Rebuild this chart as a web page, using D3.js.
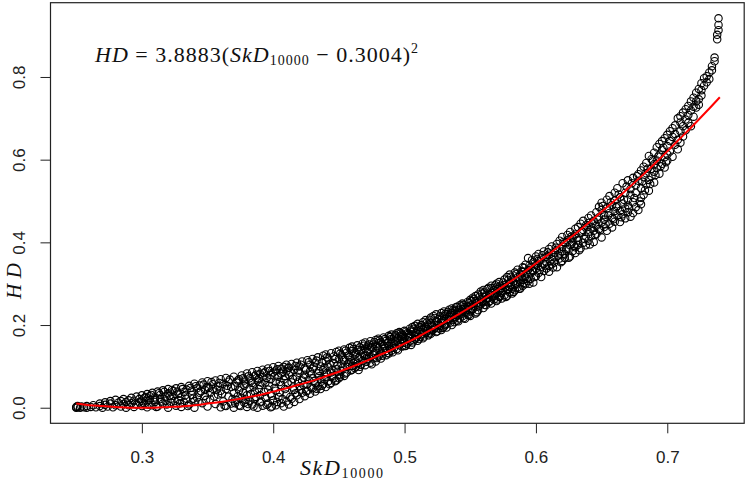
<!DOCTYPE html>
<html>
<head>
<meta charset="utf-8">
<script src="https://cdn.jsdelivr.net/npm/d3@7"></script>
<style>
  html, body { margin: 0; padding: 0; background: #fff; }
  svg { display: block; }
  .axis text { font-family: "Liberation Sans", Arial, sans-serif; font-size: 17px; fill: #222; }
  .axis line { stroke: #222; }
  .math { font-family: "Liberation Serif", "Times New Roman", serif; fill: #111; }
</style>
</head>
<body>
<div id="chart"></div>
<script>
// tick labels
const xTicks = [0.3, 0.4, 0.5, 0.6, 0.7];
const yTicks = [0.0, 0.2, 0.4, 0.6, 0.8];

// observed points, grouped by SkD_10000 value: [skd, [hd, hd, ...]]
const hdColumns = [
  [0.250, [0.000, 0.002]], [0.251, [0.001, 0.004]], [0.253, [0.000]], [0.254, [0.003]],
  [0.256, [0.001]], [0.258, [0.004, 0.000]], [0.261, [0.002]], [0.263, [0.006]],
  [0.265, [0.001]], [0.268, [0.004, 0.010]], [0.270, [0.000]], [0.272, [0.007, 0.013]],
  [0.274, [0.003]], [0.276, [0.010, 0.016]], [0.278, [0.001]], [0.280, [0.006, 0.019]],
  [0.282, [0.012]], [0.284, [0.003, 0.016]], [0.286, [0.009, 0.021]], [0.288, [0.000, 0.014]],
  [0.290, [0.018, 0.006]], [0.292, [0.024, 0.011]], [0.294, [0.002, 0.017]], [0.296, [0.027, 0.008]],
  [0.298, [0.013, 0.021]], [0.300, [0.030, 0.004, 0.017]],
  [0.302, [0.010, 0.024]], [0.304, [0.033, 0.001]], [0.306, [0.019, 0.028]], [0.308, [0.006, 0.036]],
  [0.310, [0.014, 0.025]], [0.312, [0.039, 0.003]], [0.314, [0.021, 0.031]], [0.316, [0.010, 0.042]],
  [0.318, [0.027, 0.017]], [0.320, [0.000, 0.035, 0.045]], [0.322, [0.022, 0.012]], [0.324, [0.040, 0.029]],
  [0.326, [0.005, 0.047]], [0.328, [0.018, 0.034]], [0.330, [0.026, 0.050, 0.002]], [0.332, [0.038, 0.013]],
  [0.334, [0.044, 0.022]], [0.336, [0.008, 0.053]], [0.338, [0.031, 0.041]], [0.340, [0.016, 0.058, 0.000]],
  [0.342, [0.047, 0.025]], [0.344, [0.036, 0.054]], [0.346, [0.011, 0.061]], [0.348, [0.029, 0.043]],
  [0.350, [0.003, 0.064, 0.050]], [0.352, [0.020, 0.037]], [0.354, [0.057, 0.046]], [0.356, [0.009, 0.066]],
  [0.358, [0.032, 0.052]], [0.360, [0.001, 0.069, 0.041]],
  [0.362, [0.058, 0.015]], [0.364, [0.072, 0.004, 0.045]], [0.366, [0.027, 0.063]], [0.368, [0.050, 0.010]],
  [0.370, [0.075, 0.035, 0.000]], [0.372, [0.061, 0.019]], [0.374, [0.069, 0.042, 0.006]], [0.376, [0.078, 0.024]],
  [0.378, [0.053, 0.012, 0.066]], [0.380, [0.083, 0.030, 0.002]], [0.382, [0.071, 0.047, 0.016]],
  [0.384, [0.060, 0.086, 0.008]], [0.386, [0.039, 0.077, 0.021]], [0.388, [0.089, 0.066, 0.000]],
  [0.390, [0.055, 0.082, 0.013, 0.030]], [0.392, [0.074, 0.092, 0.005]], [0.394, [0.061, 0.024, 0.087]],
  [0.396, [0.095, 0.044, 0.010]], [0.398, [0.079, 0.069, 0.001, 0.034]], [0.400, [0.098, 0.085, 0.018]],
  [0.402, [0.063, 0.090, 0.006, 0.041]], [0.404, [0.101, 0.075, 0.026]], [0.406, [0.083, 0.094, 0.011, 0.055]],
  [0.408, [0.068, 0.099, 0.003]], [0.410, [0.104, 0.088, 0.032, 0.015]],
  [0.412, [0.079, 0.097, 0.008]], [0.414, [0.106, 0.061, 0.022]], [0.416, [0.092, 0.043, 0.014]],
  [0.418, [0.109, 0.075, 0.030]], [0.420, [0.084, 0.100, 0.021, 0.052]], [0.422, [0.112, 0.066, 0.036]],
  [0.424, [0.095, 0.080, 0.028]], [0.426, [0.115, 0.057, 0.041]], [0.428, [0.104, 0.088, 0.034]],
  [0.430, [0.118, 0.071, 0.047, 0.095]], [0.432, [0.109, 0.060, 0.039]], [0.434, [0.122, 0.083, 0.052]],
  [0.436, [0.100, 0.068, 0.045]], [0.438, [0.126, 0.091, 0.057]], [0.440, [0.113, 0.075, 0.050, 0.129]],
  [0.442, [0.098, 0.064, 0.119]], [0.444, [0.132, 0.085, 0.060]], [0.446, [0.108, 0.071, 0.124]],
  [0.448, [0.135, 0.093, 0.066]], [0.450, [0.117, 0.080, 0.138, 0.071]],
  [0.452, [0.127, 0.090, 0.106]], [0.454, [0.141, 0.077, 0.115]], [0.456, [0.099, 0.133, 0.085]],
  [0.458, [0.145, 0.110, 0.122]], [0.460, [0.092, 0.137, 0.101, 0.148]], [0.462, [0.118, 0.128, 0.096]],
  [0.464, [0.151, 0.107, 0.140]], [0.466, [0.124, 0.099, 0.146]], [0.468, [0.113, 0.155, 0.133]],
  [0.470, [0.103, 0.143, 0.126, 0.158]], [0.472, [0.117, 0.150, 0.135]], [0.474, [0.161, 0.109, 0.140]],
  [0.476, [0.128, 0.153, 0.119]], [0.478, [0.164, 0.137, 0.112]], [0.480, [0.145, 0.124, 0.167, 0.156]],
  [0.482, [0.131, 0.159, 0.119]], [0.484, [0.170, 0.142, 0.150]], [0.486, [0.127, 0.162, 0.137]],
  [0.488, [0.174, 0.149, 0.131]], [0.490, [0.157, 0.138, 0.177, 0.166]], [0.492, [0.145, 0.170, 0.155]],
  [0.494, [0.180, 0.142, 0.162]], [0.496, [0.151, 0.172, 0.183]], [0.498, [0.165, 0.148, 0.177]],
  [0.500, [0.186, 0.157, 0.170, 0.149]],
  [0.502, [0.164, 0.180, 0.155]], [0.504, [0.191, 0.172, 0.161]], [0.506, [0.158, 0.184, 0.195]],
  [0.508, [0.176, 0.166, 0.198]], [0.510, [0.189, 0.162, 0.203, 0.177]], [0.512, [0.171, 0.195, 0.183]],
  [0.514, [0.207, 0.168, 0.188]], [0.516, [0.181, 0.212, 0.196]], [0.518, [0.175, 0.201, 0.190]],
  [0.520, [0.218, 0.185, 0.205, 0.179]], [0.522, [0.196, 0.222, 0.189]], [0.524, [0.210, 0.183, 0.226]],
  [0.526, [0.200, 0.192, 0.215]], [0.528, [0.229, 0.206, 0.188]], [0.530, [0.214, 0.196, 0.233, 0.221]],
  [0.532, [0.203, 0.226, 0.194]], [0.534, [0.237, 0.212, 0.220]], [0.536, [0.200, 0.229, 0.240]],
  [0.538, [0.218, 0.207, 0.234]], [0.540, [0.244, 0.224, 0.211, 0.236]], [0.542, [0.216, 0.248, 0.229]],
  [0.544, [0.238, 0.221, 0.252]], [0.546, [0.231, 0.215, 0.244]], [0.548, [0.256, 0.237, 0.225]],
  [0.550, [0.247, 0.222, 0.261, 0.233]],
  [0.552, [0.239, 0.266, 0.251]], [0.554, [0.228, 0.258, 0.270]], [0.556, [0.245, 0.274, 0.236]],
  [0.558, [0.262, 0.250, 0.281]], [0.560, [0.241, 0.285, 0.268, 0.255]], [0.562, [0.273, 0.248, 0.260]],
  [0.564, [0.290, 0.266, 0.255]], [0.566, [0.278, 0.252, 0.295]], [0.568, [0.262, 0.284, 0.271]],
  [0.570, [0.300, 0.258, 0.276, 0.291]], [0.572, [0.268, 0.304, 0.283]], [0.574, [0.290, 0.264, 0.278]],
  [0.576, [0.310, 0.272, 0.297]], [0.578, [0.285, 0.316, 0.270]], [0.580, [0.302, 0.279, 0.322, 0.292]],
  [0.582, [0.288, 0.310, 0.276]], [0.584, [0.327, 0.297, 0.284]], [0.586, [0.315, 0.291, 0.334]],
  [0.588, [0.301, 0.322, 0.288]], [0.590, [0.340, 0.309, 0.295, 0.328]], [0.592, [0.318, 0.346, 0.299]],
  [0.594, [0.362, 0.333, 0.306]], [0.596, [0.312, 0.340, 0.325]], [0.598, [0.352, 0.303, 0.331]],
  [0.600, [0.366, 0.318, 0.345, 0.337]],
  [0.602, [0.326, 0.355, 0.372]], [0.604, [0.340, 0.316, 0.361]], [0.606, [0.378, 0.348, 0.331]],
  [0.608, [0.337, 0.365, 0.352]], [0.610, [0.384, 0.343, 0.370, 0.329]], [0.612, [0.359, 0.390, 0.347]],
  [0.614, [0.375, 0.351, 0.364]], [0.616, [0.396, 0.340, 0.382]], [0.618, [0.361, 0.404, 0.373]],
  [0.620, [0.389, 0.355, 0.413, 0.378]], [0.622, [0.371, 0.398, 0.362]], [0.624, [0.418, 0.384, 0.405]],
  [0.626, [0.393, 0.366, 0.425]], [0.628, [0.379, 0.411, 0.400]], [0.630, [0.433, 0.388, 0.419, 0.374]],
  [0.632, [0.405, 0.437, 0.394]], [0.634, [0.423, 0.386, 0.445]], [0.636, [0.399, 0.452, 0.430]],
  [0.638, [0.414, 0.393, 0.441]], [0.640, [0.459, 0.425, 0.404, 0.447]], [0.642, [0.436, 0.465, 0.415]],
  [0.644, [0.452, 0.401, 0.428]], [0.646, [0.473, 0.440, 0.420]], [0.648, [0.461, 0.432, 0.486]],
  [0.650, [0.448, 0.412, 0.479, 0.496]],
  [0.652, [0.437, 0.466, 0.455]], [0.654, [0.503, 0.428, 0.482]], [0.656, [0.471, 0.445, 0.512]],
  [0.658, [0.490, 0.459, 0.436]], [0.660, [0.520, 0.476, 0.450, 0.501]], [0.662, [0.465, 0.531, 0.488]],
  [0.664, [0.449, 0.509, 0.476]], [0.666, [0.543, 0.494, 0.468]], [0.668, [0.482, 0.520, 0.458]],
  [0.670, [0.550, 0.503, 0.473, 0.489]], [0.672, [0.462, 0.529, 0.515]], [0.674, [0.471, 0.556, 0.497]],
  [0.676, [0.538, 0.485, 0.520]], [0.678, [0.565, 0.478, 0.549]], [0.680, [0.492, 0.574, 0.531, 0.508]],
  [0.682, [0.558, 0.515, 0.583]], [0.684, [0.540, 0.592, 0.567]], [0.686, [0.609, 0.551, 0.525]],
  [0.688, [0.578, 0.601, 0.560]], [0.690, [0.617, 0.545, 0.589, 0.571]], [0.692, [0.598, 0.630, 0.580]],
  [0.694, [0.612, 0.566, 0.638]], [0.696, [0.590, 0.624, 0.645]], [0.698, [0.606, 0.581, 0.652]],
  [0.700, [0.633, 0.613, 0.660, 0.598]],
  [0.702, [0.645, 0.620, 0.669]], [0.704, [0.607, 0.655, 0.676]], [0.706, [0.636, 0.683, 0.662]],
  [0.708, [0.700, 0.648, 0.625]], [0.710, [0.690, 0.669, 0.641, 0.705]], [0.712, [0.656, 0.714, 0.681]],
  [0.714, [0.697, 0.671, 0.722]], [0.716, [0.730, 0.689, 0.708]], [0.718, [0.681, 0.741, 0.719]],
  [0.720, [0.750, 0.704, 0.728]], [0.722, [0.726, 0.762, 0.741]], [0.724, [0.771, 0.746, 0.733]],
  [0.726, [0.755, 0.785, 0.768]], [0.728, [0.797, 0.779]], [0.730, [0.802, 0.787]],
  [0.732, [0.811, 0.795]], [0.734, [0.826, 0.816]], [0.736, [0.838, 0.847]],
  [0.738, [0.891, 0.902]], [0.739, [0.913, 0.926, 0.942]]
];

// further points in the dense part of the band, between the columns above
const hdColumnsBetween = [
  [0.301, [0.012]], [0.303, [0.026]], [0.305, [0.007]], [0.307, [0.031]], [0.309, [0.019]],
  [0.311, [0.002]], [0.313, [0.035]], [0.315, [0.015]], [0.317, [0.038]], [0.319, [0.008]],
  [0.321, [0.029]], [0.323, [0.043]], [0.325, [0.016]], [0.327, [0.039]], [0.329, [0.011]],
  [0.331, [0.045]], [0.333, [0.030]], [0.335, [0.004]], [0.337, [0.048]], [0.339, [0.022]],
  [0.341, [0.052]], [0.343, [0.014]], [0.345, [0.040]], [0.347, [0.056]], [0.349, [0.019]],
  [0.351, [0.048]], [0.353, [0.062]], [0.355, [0.027]], [0.357, [0.044]], [0.359, [0.060]],
  [0.361, [0.034]], [0.363, [0.005]], [0.365, [0.053]], [0.367, [0.068]], [0.369, [0.021]],
  [0.371, [0.052, 0.011]], [0.373, [0.028, 0.066]], [0.375, [0.004, 0.049]], [0.377, [0.071, 0.037]],
  [0.379, [0.020, 0.058]], [0.381, [0.076, 0.009]], [0.383, [0.033, 0.064]], [0.385, [0.051, 0.003]],
  [0.387, [0.080, 0.026]], [0.389, [0.045, 0.070]], [0.391, [0.015, 0.061]], [0.393, [0.084, 0.038]],
  [0.395, [0.007, 0.072]], [0.397, [0.053, 0.089]], [0.399, [0.029, 0.003]], [0.401, [0.076, 0.048]],
  [0.403, [0.014, 0.093]], [0.405, [0.062, 0.037]], [0.407, [0.087, 0.021]], [0.409, [0.045, 0.077]],
  [0.411, [0.096, 0.060]], [0.413, [0.026, 0.085]], [0.415, [0.070, 0.049]], [0.417, [0.101, 0.035]],
  [0.419, [0.063, 0.090]], [0.421, [0.044, 0.104]], [0.423, [0.073, 0.055]], [0.425, [0.092, 0.039]],
  [0.427, [0.067, 0.110]], [0.429, [0.081, 0.049]], [0.431, [0.100, 0.064]], [0.433, [0.046, 0.114]],
  [0.435, [0.089, 0.076]], [0.437, [0.110, 0.053]], [0.439, [0.069, 0.097]], [0.441, [0.084, 0.122]],
  [0.443, [0.057, 0.105]], [0.445, [0.092, 0.077]], [0.447, [0.118, 0.064]], [0.449, [0.087, 0.102]],
  [0.451, [0.131, 0.075]], [0.453, [0.097, 0.119]], [0.455, [0.083, 0.138]], [0.457, [0.105, 0.126]],
  [0.459, [0.090, 0.115]], [0.461, [0.142, 0.108]], [0.463, [0.099, 0.131]], [0.465, [0.120, 0.091]],
  [0.467, [0.139, 0.104]], [0.469, [0.126, 0.150]], [0.471, [0.111, 0.137]], [0.473, [0.153, 0.124]],
  [0.475, [0.105, 0.146]], [0.477, [0.132, 0.159]], [0.479, [0.120, 0.149]], [0.481, [0.138, 0.163]],
  [0.483, [0.126, 0.154]], [0.485, [0.145, 0.166]], [0.487, [0.133, 0.157]], [0.489, [0.171, 0.143]],
  [0.491, [0.150, 0.134]], [0.493, [0.161, 0.175]], [0.495, [0.139, 0.168]], [0.497, [0.156, 0.180]],
  [0.499, [0.175, 0.161]], [0.501, [0.150, 0.184]], [0.503, [0.168, 0.177]], [0.505, [0.187, 0.152]],
  [0.507, [0.163, 0.191]], [0.509, [0.181, 0.170]], [0.511, [0.196, 0.166]], [0.513, [0.178, 0.200]],
  [0.515, [0.192, 0.172]], [0.517, [0.206, 0.185]], [0.519, [0.180, 0.213]], [0.521, [0.199, 0.188]],
  [0.523, [0.217, 0.193]], [0.525, [0.185, 0.207]], [0.527, [0.221, 0.198]], [0.529, [0.209, 0.193]],
  [0.531, [0.227, 0.200]], [0.533, [0.215, 0.232]], [0.535, [0.206, 0.225]], [0.537, [0.236, 0.213]],
  [0.539, [0.220, 0.243]], [0.541, [0.230, 0.209]], [0.543, [0.245, 0.226]], [0.545, [0.217, 0.249]],
  [0.547, [0.240, 0.229]], [0.549, [0.224, 0.253]], [0.551, [0.258, 0.236]], [0.553, [0.245, 0.263]],
  [0.555, [0.231, 0.254]], [0.557, [0.268, 0.247]], [0.559, [0.256, 0.276]], [0.561, [0.249, 0.279]],
  [0.563, [0.264, 0.287]], [0.565, [0.258, 0.274]], [0.567, [0.289, 0.267]], [0.569, [0.275, 0.296]],
  [0.571, [0.262, 0.287]], [0.573, [0.295, 0.271]], [0.575, [0.283, 0.303]], [0.577, [0.268, 0.292]],
  [0.579, [0.309, 0.285]], [0.581, [0.296, 0.317]], [0.583, [0.280, 0.305]], [0.585, [0.323, 0.299]],
  [0.587, [0.288, 0.311]], [0.589, [0.330, 0.317]], [0.591, [0.302, 0.338]], [0.593, [0.325, 0.312]],
  [0.595, [0.344, 0.300]], [0.597, [0.333, 0.357]], [0.599, [0.316, 0.349]],
  [0.601, [0.360]], [0.603, [0.333]], [0.605, [0.369]], [0.607, [0.344]], [0.609, [0.376]],
  [0.611, [0.355]], [0.613, [0.339]], [0.615, [0.387]], [0.617, [0.368]], [0.619, [0.352]],
  [0.621, [0.401]], [0.623, [0.383]], [0.625, [0.363]], [0.627, [0.414]], [0.629, [0.392]],
  [0.631, [0.410]], [0.633, [0.381]], [0.635, [0.426]], [0.637, [0.408]], [0.639, [0.437]],
  [0.641, [0.395]], [0.643, [0.446]], [0.645, [0.418]], [0.647, [0.455]], [0.649, [0.429]],
  [0.651, [0.488]], [0.653, [0.444]], [0.655, [0.465]], [0.657, [0.497]], [0.659, [0.456]],
  [0.661, [0.485]], [0.663, [0.516]], [0.665, [0.461]], [0.667, [0.503]], [0.669, [0.535]],
  [0.671, [0.482]], [0.673, [0.543]], [0.675, [0.507]], [0.677, [0.560]], [0.679, [0.499]],
  [0.681, [0.547]], [0.683, [0.526]], [0.685, [0.578]], [0.687, [0.541]], [0.689, [0.598]],
  [0.691, [0.563]], [0.693, [0.607]], [0.695, [0.584]], [0.697, [0.629]], [0.699, [0.594]]
];

// fitted curve
const fitSkd = [0.25, 0.26, 0.27, 0.28, 0.29, 0.30, 0.31, 0.32, 0.33, 0.34, 0.35, 0.36, 0.37,
  0.38, 0.39, 0.40, 0.41, 0.42, 0.43, 0.44, 0.45, 0.46, 0.47, 0.48, 0.49, 0.50, 0.51, 0.52,
  0.53, 0.54, 0.55, 0.56, 0.57, 0.58, 0.59, 0.60, 0.61, 0.62, 0.63, 0.64, 0.65, 0.66, 0.67,
  0.68, 0.69, 0.70, 0.71, 0.72, 0.73, 0.74];
const fitHd = [0.010, 0.006, 0.004, 0.002, 0.000, 0.000, 0.000, 0.002, 0.003, 0.006, 0.010,
  0.014, 0.019, 0.025, 0.031, 0.039, 0.047, 0.056, 0.065, 0.076, 0.087, 0.099, 0.112, 0.126,
  0.140, 0.155, 0.171, 0.188, 0.206, 0.224, 0.243, 0.263, 0.283, 0.304, 0.326, 0.349, 0.372,
  0.397, 0.421, 0.447, 0.474, 0.501, 0.530, 0.559, 0.589, 0.620, 0.652, 0.684, 0.717, 0.751];

const width = 747, height = 481;

const points = hdColumns.concat(hdColumnsBetween)
  .flatMap(([s, ys]) => ys.map(h => ({skd: s, hd: h})));
const fit = fitSkd.map((s, i) => ({skd: s, hd: fitHd[i]}));

// R-style 4% padding around the data range
const xExt = d3.extent(points, d => d.skd), yExt = d3.extent(points, d => d.hd);
const padX = (xExt[1] - xExt[0]) * 0.04, padY = (yExt[1] - yExt[0]) * 0.04;

const x = d3.scaleLinear().domain([xExt[0] - padX, xExt[1] + padX]).range([50.5, 744.2]);
const y = d3.scaleLinear().domain([yExt[0] - padY, yExt[1] + padY]).range([423.3, 2.7]);

const svg = d3.select('#chart').append('svg')
  .attr('width', width)
  .attr('height', height);

// points
svg.append('g').selectAll('circle')
  .data(points)
  .join('circle')
  .attr('cx', d => x(d.skd))
  .attr('cy', d => y(d.hd))
  .attr('r', 3.7)
  .attr('fill', 'none')
  .attr('stroke', '#000')
  .attr('stroke-width', 1.1);

// fitted line
svg.append('path')
  .datum(fit)
  .attr('fill', 'none')
  .attr('stroke', '#ff0000')
  .attr('stroke-width', 2)
  .attr('d', d3.line().x(d => x(d.skd)).y(d => y(d.hd)).curve(d3.curveMonotoneX));

// box
svg.append('rect')
  .attr('x', x.range()[0]).attr('y', y.range()[1])
  .attr('width', x.range()[1] - x.range()[0])
  .attr('height', y.range()[0] - y.range()[1])
  .attr('fill', 'none')
  .attr('stroke', '#222')
  .attr('stroke-width', 1.2);

// axes
const xAxisG = svg.append('g').attr('class', 'axis')
  .attr('transform', `translate(0,${y.range()[0]})`)
  .call(d3.axisBottom(x).tickValues(xTicks).tickSize(10).tickPadding(17.5).tickFormat(d3.format('.1f')));
xAxisG.select('.domain').remove();

const yAxisG = svg.append('g').attr('class', 'axis')
  .attr('transform', `translate(${x.range()[0]},0)`)
  .call(d3.axisLeft(y).tickValues(yTicks).tickSize(10).tickFormat(d3.format('.1f')));
yAxisG.select('.domain').remove();
yAxisG.selectAll('.tick text')
  .attr('x', null).attr('dy', null)
  .attr('text-anchor', 'middle')
  .attr('transform', 'translate(-25.5,0) rotate(-90)');

// axis titles (math italic)
const xt = svg.append('text').attr('class', 'math')
  .attr('font-family', '"Liberation Serif", serif')
  .attr('x', 300).attr('y', 475)
  .attr('textLength', 83).attr('lengthAdjust', 'spacing');
xt.append('tspan').attr('font-style', 'italic').attr('font-size', 22).text('SkD');
xt.append('tspan').attr('font-size', 14).attr('dy', 3).text('10000');

svg.append('text').attr('class', 'math')
  .attr('font-family', '"Liberation Serif", serif')
  .attr('transform', 'translate(20.5,281) rotate(-90)')
  .attr('text-anchor', 'middle')
  .attr('font-style', 'italic').attr('font-size', 21)
  .attr('textLength', 36).attr('lengthAdjust', 'spacing')
  .text('HD');

// equation annotation
const eq = svg.append('text').attr('class', 'math')
  .attr('font-family', '"Liberation Serif", serif')
  .attr('x', 95).attr('y', 62)
  .attr('font-size', 22)
  .attr('textLength', 323).attr('lengthAdjust', 'spacing');
eq.append('tspan').attr('font-style', 'italic').text('HD');
eq.append('tspan').text(' = 3.8883(');
eq.append('tspan').attr('font-style', 'italic').text('SkD');
eq.append('tspan').attr('font-size', 14).attr('dy', 3).text('10000');
eq.append('tspan').attr('dy', -3).text(' \u2212 0.3004)');
eq.append('tspan').attr('font-size', 14).attr('dy', -9).text('2');
</script>
</body>
</html>
